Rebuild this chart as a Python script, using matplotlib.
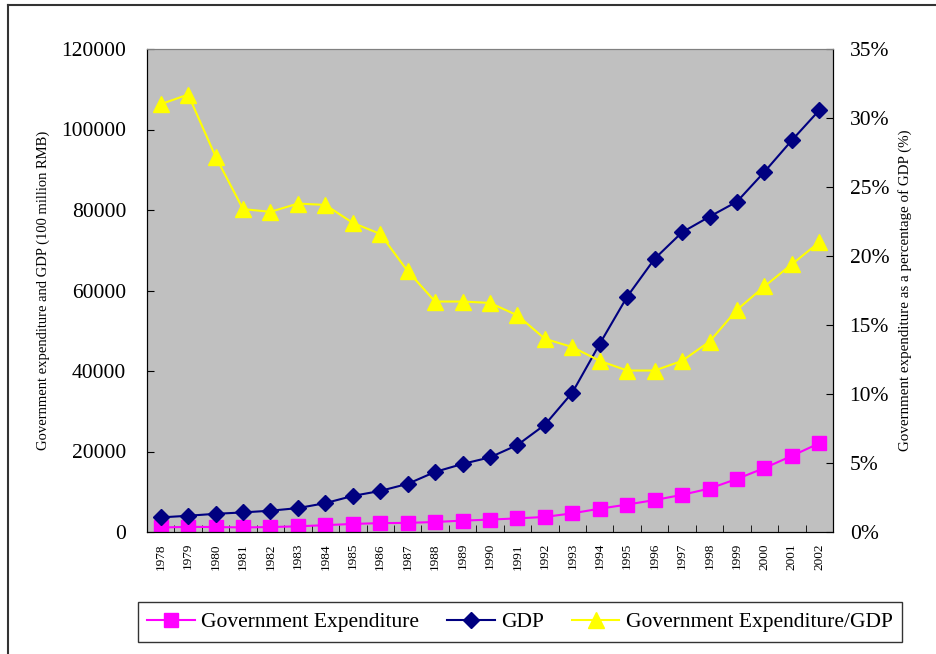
import matplotlib.pyplot as plt
from matplotlib.lines import Line2D
from matplotlib.ticker import FuncFormatter, FixedLocator, NullFormatter

years = list(range(1978, 2003))

# 100 million RMB
gov_exp = [1122, 1282, 1229, 1138, 1230, 1410, 1701, 2004, 2205, 2262, 2491, 2824, 3084,
           3387, 3742, 4642, 5793, 6824, 7938, 9234, 10798, 13188, 15887, 18903, 22053]
gdp = [3624, 4038, 4518, 4862, 5295, 5935, 7171, 8964, 10202, 11963, 14928, 16909, 18548,
       21618, 26638, 34634, 46759, 58478, 67885, 74463, 78345, 82068, 89468, 97315, 104791]
# percent
ratio = [31.0, 31.7, 27.2, 23.4, 23.2, 23.8, 23.7, 22.4, 21.6, 18.9, 16.7, 16.7, 16.6,
         15.7, 14.0, 13.4, 12.4, 11.7, 11.7, 12.4, 13.8, 16.1, 17.8, 19.4, 21.0]

labels = ['Government Expenditure', 'GDP', 'Government Expenditure/GDP']

plt.rcParams['font.family'] = 'Liberation Serif'

fig = plt.figure(figsize=(9.36, 6.54), dpi=100)
ax = fig.add_axes([147/936, 122/654, 686/936, 483/654])
ax.set_facecolor('#C0C0C0')

x = list(range(len(years)))
ax.plot(x, gov_exp, color='#FF00FF', marker='s', markersize=10, linewidth=1.5, label=labels[0])
ax.plot(x, gdp, color='#000080', marker='D', markersize=8.5, linewidth=1.5, label=labels[1])
ax.set_xlim(-0.5, len(years) - 0.5)
ax.set_ylim(0, 120000)
ax.set_yticks(range(0, 120001, 20000))
ax.tick_params(axis='y', direction='in', length=5, labelsize=15.5, pad=15)
ax.set_xticks(x)
ax.set_xticklabels([str(y) for y in years], rotation=90, fontsize=9.5)
ax.tick_params(axis='x', which='major', length=0, pad=8)
ax.xaxis.set_minor_locator(FixedLocator([i + 0.5 for i in range(len(years) - 1)]))
ax.xaxis.set_minor_formatter(NullFormatter())
ax.tick_params(axis='x', which='minor', direction='in', length=5)
ax.set_ylabel('Government expenditure and GDP (100 million RMB)', fontsize=10.5, labelpad=8)

ax2 = ax.twinx()
ax2.plot(x, ratio, color='#FFFF00', marker='^', markersize=11, linewidth=1.5, label=labels[2])
ax2.set_ylim(0, 35)
ax2.set_yticks(range(0, 36, 5))
ax2.yaxis.set_major_formatter(FuncFormatter(lambda v, p: '%d%%' % v))
ax2.tick_params(axis='y', direction='in', length=5, labelsize=15.5, pad=12)
ax2.set_ylabel('Government expenditure as a percentage of GDP (%)', fontsize=10.8, labelpad=6)

for a in (ax, ax2):
    a.spines['top'].set_color('#808080')
    for s in ('left', 'right', 'bottom'):
        a.spines[s].set_color('black')

handles = [Line2D([], [], color='#FF00FF', marker='s', markersize=10, linewidth=1.5),
           Line2D([], [], color='#000080', marker='D', markersize=8.5, linewidth=1.5),
           Line2D([], [], color='#FFFF00', marker='^', markersize=11, linewidth=1.5)]
leg = fig.legend(handles, labels, loc='center', bbox_to_anchor=(520/936, 1 - 622/654),
                 ncol=3, fontsize=15.5, frameon=True, fancybox=False, handlelength=2.2,
                 handletextpad=0.3, columnspacing=1.3, borderpad=0.45)
leg.get_frame().set_edgecolor('black')
leg.get_frame().set_linewidth(1)

# outer chart border (only top and left visible in the crop)
fig.add_artist(Line2D([8/936, 8/936], [0, 1 - 5/654], color='#333333', linewidth=1.5,
                      transform=fig.transFigure))
fig.add_artist(Line2D([8/936, 1], [1 - 5/654, 1 - 5/654], color='#333333', linewidth=1.5,
                      transform=fig.transFigure))

fig.savefig('out.png', dpi=100)
